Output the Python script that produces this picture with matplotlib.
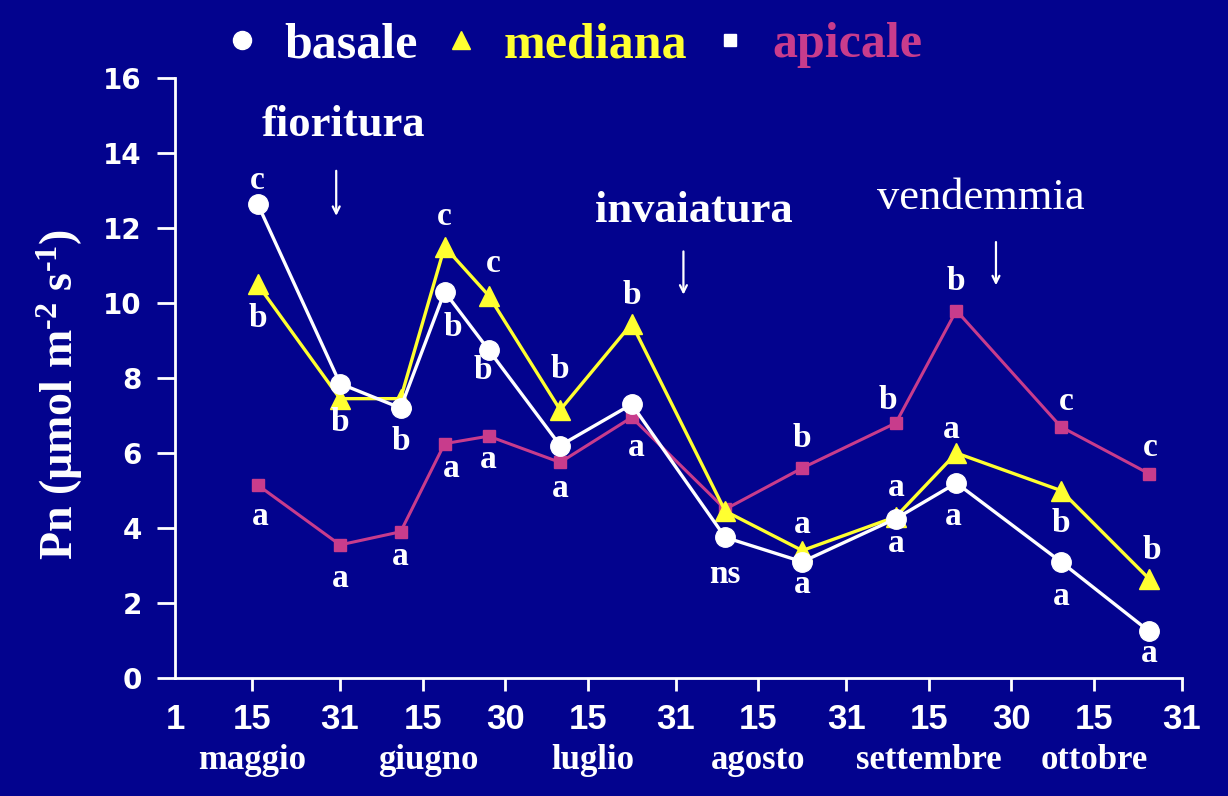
import matplotlib
matplotlib.use('Agg')
import matplotlib.pyplot as plt
from matplotlib.lines import Line2D

# days counted from 1 May
days = [15, 30, 41, 49, 57, 70, 83, 100, 114, 131, 142, 161, 177]
basale = [12.65, 7.85, 7.2, 10.3, 8.75, 6.2, 7.3, 3.75, 3.1, 4.25, 5.2, 3.1, 1.25]
mediana = [10.5, 7.45, 7.45, 11.5, 10.2, 7.15, 9.45, 4.45, 3.4, 4.3, 6.0, 5.0, 2.65]
apicale = [5.15, 3.55, 3.9, 6.25, 6.45, 5.75, 6.95, 4.5, 5.6, 6.8, 9.8, 6.7, 5.45]

basale_lett = ['c', 'b', 'b', 'b', 'b', '', '', 'ns', 'a', 'a', 'a', 'a', 'a']
mediana_lett = ['b', '', '', 'c', 'c', 'b', 'b', '', 'a', 'a', 'a', 'b', 'b']
apicale_lett = ['a', 'a', 'a', 'a', 'a', 'a', 'a', '', 'b', 'b', 'b', 'c', 'c']

tick_days = [0, 14, 30, 45, 60, 75, 91, 106, 122, 137, 152, 167, 183]
tick_labels = ['1', '15', '31', '15', '30', '15', '31', '15', '31', '15', '30', '15', '31']
month_days = [14, 46, 76, 106, 137, 167]
months = ['maggio', 'giugno', 'luglio', 'agosto', 'settembre', 'ottobre']

events = ['fioritura', 'invaiatura', 'vendemmia']
event_days = [29.3, 92.4, 149.2]

BG = '#03038e'
YEL = '#ffff30'
MAG = '#c83c8c'
serif = 'Liberation Serif'

# label offsets in points (dx, dy)
b_off = [(0, 17), (0, -28), (0, -24), (6, -26), (-4, -15), None, None, (0, -27),
         (0, -16), (0, -18), (-2, -24), (0, -25), (0, -16)]
m_off = [(0, -25), None, None, (0, 22), (3, 23), (0, 29), (0, 20), None,
         (0, 19), (0, 21), (-4, 17), (0, -24), (2, 20)]
a_off = [(2, -23), (0, -24), (0, -18), (5, -18), (0, -17), (0, -19), (3, -22), None,
         (0, 21), (-6, 16), (0, 21), (4, 18), (1, 19)]

plt.rcParams['mathtext.default'] = 'regular'

fig = plt.figure(figsize=(12.28, 7.96), dpi=100)
fig.patch.set_facecolor(BG)
ax = fig.add_axes([0.1425, 0.1482, 0.82, 0.7538])
ax.set_facecolor(BG)

ax.plot(days, apicale, color=MAG, lw=2.2, marker='s', ms=9, mfc=MAG, mec=MAG, zorder=3)
ax.plot(days, mediana, color=YEL, lw=2.4, marker='^', ms=15, mfc=YEL, mec=YEL, zorder=4)
ax.plot(days, basale, color='white', lw=2.4, marker='o', ms=14, mfc='white', mec='white', zorder=5)

for ys, lett, off in [(basale, basale_lett, b_off), (mediana, mediana_lett, m_off),
                      (apicale, apicale_lett, a_off)]:
    for d, y, t, o in zip(days, ys, lett, off):
        if t and o:
            ax.annotate(t, (d, y), xytext=o, textcoords='offset points', ha='center',
                        va='center', color='white', fontsize=24, fontweight='bold',
                        family=serif, zorder=6)

ax.set_xlim(0, 183)
ax.set_ylim(0, 16)

for sp in ['top', 'right']:
    ax.spines[sp].set_visible(False)
for sp in ['left', 'bottom']:
    ax.spines[sp].set_color('white')
    ax.spines[sp].set_linewidth(2)

ax.set_yticks(range(0, 17, 2))
ax.tick_params(axis='y', colors='white', length=13, width=2, pad=11)
for lab in ax.get_yticklabels():
    lab.set_fontweight('bold')
    lab.set_fontsize(20)
    lab.set_family('DejaVu Sans')

ax.set_xticks(tick_days)
ax.set_xticklabels(tick_labels, fontsize=25, fontweight='bold', family='Liberation Sans')
ax.tick_params(axis='x', colors='white', length=9, width=2, pad=9)
ax.xaxis.get_major_ticks()[0].tick1line.set_visible(False)

for d, m in zip(month_days, months):
    ax.text(d, -0.137, m, transform=ax.get_xaxis_transform(), ha='center', va='center',
            color='white', fontsize=25, fontweight='bold', family=serif)

ax.set_ylabel('Pn (\u00b5mol m$^{\u20102}$ s$^{\u20101}$)', color='white', fontsize=33,
              fontweight='bold', family=serif)
ax.yaxis.set_label_coords(-0.089, 0.473)

# phenological stages
ev_text_y = [14.75, 12.45, 12.8]
ev_arrow = [(13.6, 12.25), (11.45, 10.15), (11.7, 10.4)]
ev_weight = ['bold', 'bold', 'normal']
ev_text_x = [30.6, 94.3, 146.4]
for name, d, tx, ty, (a0, a1), w in zip(events, event_days, ev_text_x, ev_text_y,
                                        ev_arrow, ev_weight):
    ax.text(tx, ty, name, ha='center', va='center', color='white', fontsize=32,
            fontweight=w, family=serif)
    ax.annotate('', xy=(d, a1), xytext=(d, a0),
                arrowprops=dict(arrowstyle='->,head_length=0.5,head_width=0.25',
                                color='white', lw=1.6))

handles = [Line2D([], [], ls='none', marker='o', color='white', ms=13),
           Line2D([], [], ls='none', marker='^', color=YEL, ms=13),
           Line2D([], [], ls='none', marker='s', color='white', ms=8)]
leg = fig.legend(handles, ['basale', 'mediana', 'apicale'], loc='center',
                 bbox_to_anchor=(0.466, 0.943), ncol=3, frameon=False,
                 prop={'family': serif, 'weight': 'bold', 'size': 36},
                 handlelength=0.8, handletextpad=0.46, columnspacing=0.45,
                 labelcolor=['white', YEL, MAG])

fig.savefig('out.png', dpi=100, facecolor=BG)
